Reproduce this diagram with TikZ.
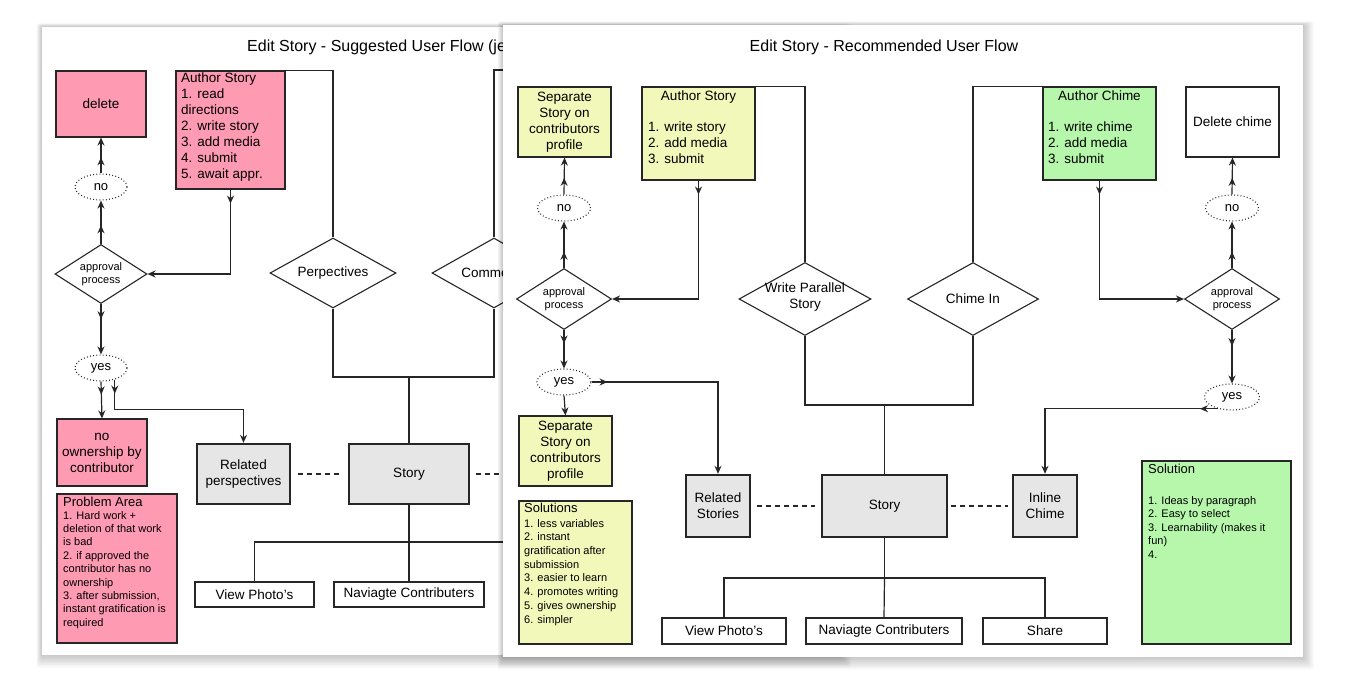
\documentclass[tikz,border=0pt]{standalone}
\usepackage{fontspec}
\setmainfont{Liberation Sans}
\usetikzlibrary{arrows.meta,shapes.geometric,decorations.markings,calc}
\definecolor{pinkc}{HTML}{FF9AB3}
\definecolor{yelc}{HTML}{F1F8B9}
\definecolor{grnc}{HTML}{B6F7AB}
\definecolor{grayc}{HTML}{E6E6E6}
\definecolor{linec}{HTML}{262626}
\newcommand\fmain{\fontsize{13.5}{16}\selectfont}
\newcommand\fsmall{\fontsize{11}{13.5}\selectfont}
\newcommand\ftitle{\fontsize{16}{19}\selectfont}
\newcommand\papershadow[4]{%
  \foreach \i in {1,...,9}{%
    \fill[black,opacity=0.022,rounded corners=2pt] ({#1-\i*0.6},{#2-\i*0.4}) rectangle ({#3+\i*1.2},{#4+\i*1.4});}}
\newcommand\bx[7]{\node[#1,minimum width={#4-#2},minimum height={#5-#3}] (#6) at ({(#2+#4)/2},{(#3+#5)/2}) {#7};}
\begin{document}
\begin{tikzpicture}[x=1pt,y=-1pt,
 >={Stealth[length=8pt,width=7pt,inset=2.6pt]},
 box/.style={draw=linec,line width=1.1pt,inner sep=0pt,align=center,font=\fmain},
 pinkbox/.style={box,fill=pinkc},
 ybox/.style={box,fill=yelc},
 gbox/.style={box,fill=grnc},
 wbox/.style={box,fill=white},
 heavy/.style={box,fill=grayc,line width=2.4pt},
 dia/.style={diamond,draw=linec,line width=1.1pt,fill=white,inner sep=0pt},
 oval/.style={ellipse,draw=linec,line width=1.1pt,dash pattern=on 0.9pt off 2.3pt,fill=white,inner sep=0pt,font=\fontsize{13}{15}\selectfont},
 conn/.style={draw=linec,line width=1.2pt},
 dconn/.style={conn,dash pattern=on 5pt off 4pt},
 mid/.style={postaction={decorate,decoration={markings,mark=at position #1 with {\arrow{>}}}}},
 txt/.style={inner sep=0pt,align=left,font=\fmain},
 stxt/.style={inner sep=0pt,align=left,font=\fsmall},
 dtxt/.style={inner sep=0pt,align=center},
]
\useasboundingbox (0,0) rectangle (1350,685);
\fill[white] (0,0) rectangle (1350,685);

% ================= LEFT SHEET =================
\papershadow{42}{27}{840}{655}
\fill[white] (42,27) rectangle (840,655);
\node[anchor=base west,font=\ftitle,inner sep=0pt] (titleL) at (247,52) {Edit Story - Suggested User Flow (jes};

\bx{pinkbox}{56}{71}{146}{137}{delL}{delete}
\bx{pinkbox}{176}{71}{285}{189}{authL}{}
\node[txt,anchor=north west] (authLt) at (181,73) {Author Story\\1. read\\directions\\2. write story\\3. add media\\4. submit\\5. await appr.};

\node[dia,minimum width=92,minimum height=59] (apL) at (101,274) {};
\node[dtxt,font=\fsmall] (apLt) at (101,274) {approval\\process};
\node[oval,minimum width=52,minimum height=26] (noL) at (101,187) {no};
\node[oval,minimum width=52,minimum height=26] (yesL) at (101,368) {yes};
\bx{pinkbox}{57}{419}{147}{486}{ownL}{no\\ownership by\\contributor}
\bx{pinkbox}{57}{494}{177}{643}{probL}{}
\node[anchor=base west,inner sep=0pt,font=\fontsize{13}{15}\selectfont] (probLt) at (63,506) {Problem Area};
\node[stxt,anchor=north west,font=\fontsize{11}{13.4}\selectfont] (probLl) at (63,511) {1. Hard work +\\deletion of that work\\is bad\\2. if approved the\\contributor has no\\ownership\\3. after submission,\\instant gratification is\\required};

\node[dia,minimum width=126,minimum height=70] (perL) at (333,273) {};
\node[dtxt,font=\fmain] (perLt) at (333,273) {Perpectives};
\node[dia,minimum width=124,minimum height=70] (comL) at (494,273) {};
\node[dtxt,font=\fmain] (comLt) at (494,273) {Comments};

\bx{heavy}{197}{444}{290}{504}{relL}{Related\\perspectives}
\bx{heavy}{349}{444}{469}{504}{storyL}{Story}
\bx{box}{195}{582}{314}{607}{vpL}{View Photo's}
\bx{box}{334}{582}{484}{607}{navL}{Naviagte Contributers}
\bx{box}{504}{582}{620}{607}{shL}{}

\coordinate (comLtop) at (560,70);
\coordinate (hubL) at (409,377);
\coordinate (busL) at (409,542);
\coordinate (busLr) at (560,542);
\coordinate (dashLr) at (560,474);

\draw[conn,->,mid=0.43] (apL.north) -- (noL.south);
\draw[conn,->,mid=0.45] (noL.north) -- (delL.south);
\draw[conn,->,mid=0.3] (apL.south) -- (yesL.north);
\draw[conn,->,mid=0.35] (yesL.south) -- (ownL.north);
\draw[conn,->,mid=14pt] (yesL.-40) |- ($(relL.north)+(0,-33)$) -- (relL.north);
\draw[conn,->,mid=14pt] (authL.south) |- (apL.east);
\draw[conn] (authL.north east) -| (perL.north);
\draw[conn] (comL.north) |- (comLtop);
\draw[conn] (perL.south) |- (hubL) -| (comL.south);
\draw[conn] (hubL) -- (storyL.north);
\draw[dconn,shorten <=7pt,shorten >=5pt] (relL.east) -- (storyL.west);
\draw[dconn,shorten <=6pt] (storyL.east) -- (dashLr);
\draw[conn] (storyL.south) -- (busL);
\draw[conn] (vpL.north) |- (busLr);
\draw[conn] (busL) -- (navL.north);

% ================= RIGHT SHEET =================
\papershadow{503}{25}{1303}{657}
\fill[white] (503,25) rectangle (1303,657);
\node[anchor=base,font=\ftitle,inner sep=0pt] (titleR) at (884,52) {Edit Story - Recommended User Flow};

\bx{ybox}{518}{87}{611}{157}{sepT}{Separate\\Story on\\contributors\\profile}
\bx{ybox}{642}{87}{755}{180}{authR}{}
\node[anchor=base,inner sep=0pt,font=\fmain] (authRh) at (698.5,100) {Author Story};
\node[txt,anchor=north west] (authRl) at (648,122) {1. write story\\2. add media\\3. submit};

\node[dia,minimum width=95,minimum height=61] (apR1) at (564,299) {};
\node[dtxt,font=\fsmall] (apR1t) at (564,299) {approval\\process};
\node[oval,minimum width=53,minimum height=26] (noR1) at (564,208) {no};
\node[oval,minimum width=54,minimum height=26] (yesR1) at (564,382) {yes};
\bx{ybox}{519}{416}{612}{486}{sepB}{Separate\\Story on\\contributors\\profile}
\bx{ybox}{519}{501}{632}{644}{solR1}{}
\node[anchor=base west,inner sep=0pt,font=\fontsize{13}{15}\selectfont] (solR1t) at (524,512) {Solutions};
\node[stxt,anchor=north west,font=\fontsize{11}{13.7}\selectfont] (solR1l) at (524,519) {1. less variables\\2. instant\\gratification after\\submission\\3. easier to learn\\4. promotes writing\\5. gives ownership\\6. simpler};

\node[dia,minimum width=132,minimum height=73] (wpR) at (805,299) {};
\node[dtxt,font=\fmain] (wpRt) at (805,297) {Write Parallel\\Story};
\node[dia,minimum width=131,minimum height=73] (ciR) at (973,299) {};
\node[dtxt,font=\fmain] (ciRt) at (973,299) {Chime In};

\bx{gbox}{1043}{87}{1156}{180}{authC}{}
\node[anchor=base,inner sep=0pt,font=\fmain] (authCh) at (1099.5,100) {Author Chime};
\node[txt,anchor=north west] (authCl) at (1048,122) {1. write chime\\2. add media\\3. submit};
\bx{wbox}{1186}{87}{1279}{157}{delC}{Delete chime}
\node[dia,minimum width=95,minimum height=61] (apR2) at (1232,299) {};
\node[dtxt,font=\fsmall] (apR2t) at (1232,299) {approval\\process};
\node[oval,minimum width=53,minimum height=26] (noR2) at (1232,208) {no};
\node[oval,minimum width=55,minimum height=26] (yesR2) at (1232,397) {yes};

\bx{heavy}{686}{475}{750}{537}{relR}{Related\\Stories}
\bx{heavy}{822}{475}{947}{537}{storyR}{Story}
\bx{heavy}{1013}{475}{1077}{537}{inlR}{Inline\\Chime}
\bx{box}{662}{618}{786}{644}{vpR}{View Photo's}
\bx{box}{806}{618}{962}{644}{navR}{Naviagte Contributers}
\bx{box}{983}{618}{1107}{644}{shR}{Share}
\bx{gbox}{1142}{461}{1291}{644}{solR2}{}
\node[anchor=base west,inner sep=0pt,font=\fontsize{13}{15}\selectfont] (solR2t) at (1148,473) {Solution};
\node[stxt,anchor=north west,font=\fontsize{11}{13.5}\selectfont] (solR2l) at (1148,496) {1. Ideas by paragraph\\2. Easy to select\\3. Learnability (makes it\\fun)\\4.};

\coordinate (hubR) at (884.5,405);
\coordinate (busR) at (884.5,578);

\draw[conn,->,mid=0.35] (apR1.north) -- (noR1.south);
\draw[conn,->,mid=0.45] (noR1.north) -- (sepT.south);
\draw[conn,->,mid=0.35] (apR1.south) -- (yesR1.north);
\draw[conn,->] (yesR1.south) -- (sepB.north);
\draw[conn,->,mid=16pt] (yesR1.east) -| (relR.north);
\draw[conn,->,mid=14pt] (authR.south) |- (apR1.east);
\draw[conn] (authR.north east) -| (wpR.north);

\draw[conn,->,mid=0.35] (apR2.north) -- (noR2.south);
\draw[conn,->,mid=0.45] (noR2.north) -- (delC.south);
\draw[conn,->,mid=0.3] (apR2.south) -- (yesR2.north);
\draw[conn,->,mid=18pt] (yesR2.220) -| (inlR.north);
\draw[conn,->,mid=14pt] (authC.south) |- (apR2.west);
\draw[conn] (ciR.north) |- (authC.north west);

\draw[conn] (wpR.south) |- (hubR) -| (ciR.south);
\draw[conn] (hubR) -- (storyR.north);
\draw[dconn,shorten <=6pt,shorten >=6pt] (relR.east) -- (storyR.west);
\draw[dconn,shorten <=3pt,shorten >=4pt] (storyR.east) -- (inlR.west);
\draw[conn] (storyR.south) -- (busR);
\draw[conn] (vpR.north) |- (busR) -| (shR.north);
\draw[conn] (busR) -- (navR.north);
\end{tikzpicture}
\end{document}
